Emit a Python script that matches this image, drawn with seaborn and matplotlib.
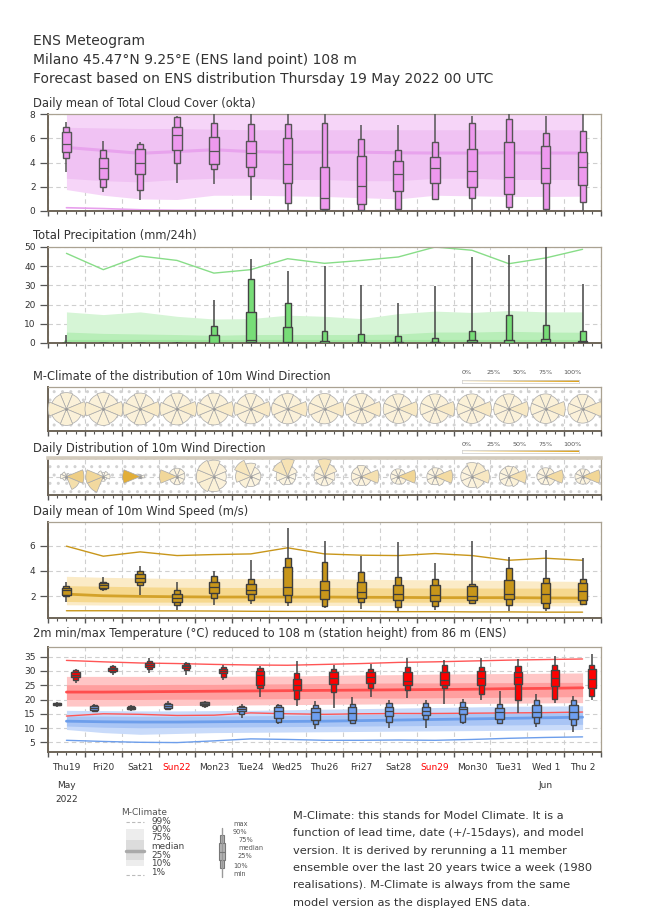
import numpy as np
import matplotlib
matplotlib.use("Agg")
import matplotlib.pyplot as plt
import matplotlib.transforms as mtransforms
from matplotlib.patches import Wedge, Rectangle
from matplotlib.colors import LinearSegmentedColormap
import seaborn as sns

sns.set_theme(style="white")
plt.rcParams['font.family'] = ['DejaVu Sans']

# ---------------- DATA ----------------
day_labels = ['Thu19', 'Fri20', 'Sat21', 'Sun22', 'Mon23', 'Tue24', 'Wed25', 'Thu26',
              'Fri27', 'Sat28', 'Sun29', 'Mon30', 'Tue31', 'Wed 1', 'Thu 2']
month_labels = [(0.5, 'May'), (13.5, 'Jun')]
year_label = '2022'

# ensemble boxes: (min, p10, p25, median, p75, p90, max)
cloud_boxes = [
    (3.19, 4.35, 4.85, 5.51, 6.51, 6.93, 7.34),
    (1.58, 2.02, 2.60, 3.52, 4.35, 5.01, 5.79),
    (0.89, 1.75, 3.02, 3.93, 5.10, 5.54, 5.73),
    (2.30, 3.99, 5.01, 6.26, 6.93, 7.73, 7.87),
    (2.19, 3.43, 3.85, 4.96, 6.12, 7.26, 8.00),
    (0.94, 2.85, 3.66, 4.76, 5.76, 7.17, 8.00),
    (0.00, 0.64, 2.35, 3.85, 6.04, 7.17, 8.00),
    (0.00, 0.05, 0.14, 1.10, 3.63, 7.26, 8.00),
    (0.00, 0.11, 0.61, 2.05, 4.54, 5.93, 7.06),
    (0.00, 0.19, 1.69, 3.05, 4.10, 4.99, 7.06),
    (0.90, 0.97, 2.27, 3.55, 4.49, 5.65, 8.00),
    (0.00, 1.08, 1.97, 3.27, 5.15, 7.29, 7.87),
    (0.00, 0.33, 1.44, 2.80, 5.68, 7.56, 8.00),
    (0.00, 0.19, 2.27, 3.55, 5.35, 6.45, 7.87),
    (0.00, 0.78, 2.11, 3.63, 4.88, 6.57, 8.00),
]
precip_boxes = [
    (0, 0, 0, 0, 0, 0, 4.4),
    (0, 0, 0, 0, 0, 0, 0.1),
    (0, 0, 0, 0, 0, 0, 0.1),
    (0, 0, 0, 0, 0, 0, 0.3),
    (0, 0, 0, 0.2, 4.4, 8.9, 22.6),
    (0, 0, 0.5, 1.6, 16.2, 33.4, 43.5),
    (0, 0, 0, 0.3, 8.2, 20.6, 37.5),
    (0, 0, 0, 0.1, 0.9, 6.1, 40.0),
    (0, 0, 0, 0, 0.5, 4.5, 30.0),
    (0, 0, 0, 0, 0.5, 3.8, 20.9),
    (0, 0, 0, 0, 0.5, 2.6, 29.6),
    (0, 0, 0, 0.3, 1.4, 6.4, 45.0),
    (0, 0, 0, 0.2, 1.4, 14.6, 46.0),
    (0, 0, 0, 0.5, 2.1, 9.6, 52.0),
    (0, 0, 0, 0.3, 1.0, 6.4, 30.8),
]
wind_boxes = [
    (1.53, 2.00, 2.13, 2.47, 2.66, 2.84, 3.10),
    (2.39, 2.58, 2.66, 2.89, 3.05, 3.13, 3.50),
    (2.13, 2.87, 3.13, 3.45, 3.76, 4.03, 4.42),
    (0.95, 1.29, 1.53, 1.84, 2.21, 2.53, 3.10),
    (1.34, 1.84, 2.26, 2.71, 3.13, 3.63, 4.03),
    (1.42, 1.74, 2.18, 2.53, 2.95, 3.39, 4.89),
    (1.21, 1.53, 2.10, 2.74, 4.29, 5.03, 7.39),
    (1.08, 1.26, 1.79, 2.47, 3.24, 4.71, 6.39),
    (1.03, 1.53, 1.84, 2.34, 3.10, 3.95, 5.16),
    (0.87, 1.16, 1.74, 2.18, 2.89, 3.53, 6.26),
    (0.95, 1.21, 1.61, 2.08, 2.89, 3.39, 4.63),
    (1.47, 1.47, 1.68, 2.00, 2.79, 2.97, 6.32),
    (0.87, 1.34, 1.79, 2.18, 3.26, 4.24, 5.11),
    (0.82, 1.08, 1.47, 2.18, 3.05, 3.45, 5.61),
    (1.42, 1.42, 1.68, 2.39, 3.05, 3.37, 5.03),
]
tmax_boxes = [
    (25.8, 27.0, 27.8, 28.7, 29.5, 30.2, 30.7),
    (28.7, 29.5, 29.9, 30.6, 31.0, 31.6, 32.2),
    (29.3, 30.6, 31.3, 32.0, 32.8, 33.4, 34.5),
    (28.7, 30.2, 31.0, 31.6, 32.2, 32.7, 33.0),
    (26.9, 28.0, 29.3, 30.1, 30.8, 31.4, 32.0),
    (20.8, 24.1, 25.0, 28.7, 29.9, 31.0, 31.6),
    (17.7, 20.2, 23.3, 25.2, 27.3, 29.3, 33.4),
    (17.1, 22.7, 25.5, 27.6, 29.7, 30.7, 32.2),
    (20.9, 24.1, 25.8, 27.9, 29.7, 30.7, 32.6),
    (20.6, 23.5, 25.2, 26.4, 29.7, 31.4, 34.5),
    (18.3, 24.1, 25.0, 27.0, 29.5, 32.2, 34.0),
    (20.0, 22.0, 25.2, 27.6, 30.1, 31.4, 34.5),
    (15.3, 19.7, 25.5, 27.8, 29.7, 31.9, 34.2),
    (18.6, 20.3, 24.7, 27.6, 30.3, 32.0, 35.1),
    (20.0, 21.4, 24.1, 27.3, 30.7, 32.0, 35.9),
]
tmin_boxes = [
    (17.3, 18.0, 18.1, 18.5, 18.7, 18.8, 19.1),
    (15.6, 15.9, 16.4, 17.1, 17.6, 17.9, 18.3),
    (15.9, 16.5, 16.7, 17.1, 17.4, 17.7, 17.9),
    (16.2, 16.5, 16.9, 17.7, 18.3, 18.6, 19.4),
    (17.1, 17.7, 17.9, 18.5, 19.0, 19.2, 19.4),
    (13.6, 14.8, 15.9, 16.7, 17.3, 17.7, 18.3),
    (11.5, 12.2, 13.4, 15.9, 17.3, 17.9, 18.5),
    (9.5, 11.5, 12.7, 15.6, 16.9, 17.9, 19.4),
    (11.3, 11.6, 12.8, 15.3, 17.3, 18.5, 20.9),
    (10.1, 12.2, 14.2, 15.9, 17.3, 18.8, 20.0),
    (10.1, 13.0, 14.4, 15.9, 17.4, 18.6, 19.7),
    (11.5, 12.2, 14.8, 16.5, 17.4, 19.2, 20.2),
    (11.3, 11.9, 13.3, 15.7, 16.9, 18.3, 22.9),
    (10.3, 11.9, 14.0, 15.7, 17.9, 19.8, 22.1),
    (8.7, 10.9, 13.0, 15.7, 17.9, 19.7, 21.2),
]
tmin_dark_days = [0, 2, 4]

# M-climate percentiles (one value per day, at noon)
cloud_c1 = [0.27, 0.2, 0.1, 0.06, 0.05, 0.04, 0.03, 0.02, 0.02, 0.02, 0.02, 0.02, 0.02, 0.02, 0.02]
cloud_c10 = [1.77, 1.3, 1.0, 0.95, 1.3, 1.3, 1.25, 1.2, 1.1, 1.0, 1.3, 1.25, 1.2, 1.2, 1.22]
cloud_c25 = [2.7, 2.5, 2.4, 2.6, 2.7, 2.7, 2.6, 2.6, 2.5, 2.5, 2.7, 2.7, 2.6, 2.6, 2.6]
cloud_c50 = [5.24, 5.0, 4.76, 4.9, 5.05, 4.9, 4.85, 4.85, 4.85, 4.8, 4.78, 4.78, 4.8, 4.78, 4.78]
cloud_c75 = [6.9, 6.85, 6.8, 6.8, 6.75, 6.7, 6.7, 6.7, 6.7, 6.7, 6.7, 6.7, 6.7, 6.7, 6.7]
cloud_c90 = [8.0] * 15

precip_c50 = [0.6] * 15
precip_c75 = [5.7, 5.0, 4.7, 4.4, 4.0, 4.4, 4.4, 4.4, 4.4, 4.7, 5.7, 5.7, 6.1, 5.7, 5.6]
precip_c90 = [16.2, 14.8, 16.2, 13.9, 12.5, 12.7, 14.5, 13.9, 12.7, 15.3, 16.6, 15.9, 16.9, 16.2, 16.2]
precip_c99 = [46.7, 38.2, 45.3, 43.0, 36.4, 38.2, 43.9, 41.5, 43.0, 44.8, 50.0, 48.3, 41.3, 44.3, 48.8]

wind_c1 = [0.87, 0.87, 0.86, 0.86, 0.85, 0.83, 0.82, 0.82, 0.82, 0.80, 0.80, 0.78, 0.78, 0.76, 0.76]
wind_c10 = [1.34, 1.32, 1.31, 1.30, 1.30, 1.30, 1.29, 1.29, 1.28, 1.28, 1.27, 1.27, 1.26, 1.26, 1.25]
wind_c25 = [1.60, 1.56, 1.55, 1.55, 1.55, 1.55, 1.55, 1.55, 1.55, 1.55, 1.54, 1.54, 1.54, 1.53, 1.53]
wind_c50 = [2.18, 2.05, 2.0, 1.97, 1.95, 1.95, 1.95, 1.95, 1.93, 1.92, 1.9, 1.9, 1.9, 1.88, 1.87]
wind_c75 = [2.84, 2.8, 2.75, 2.72, 2.7, 2.7, 2.7, 2.7, 2.68, 2.66, 2.66, 2.66, 2.65, 2.65, 2.65]
wind_c90 = [3.58, 3.5, 3.45, 3.4, 3.4, 3.4, 3.42, 3.4, 3.35, 3.32, 3.3, 3.28, 3.25, 3.2, 3.18]
wind_c99 = [5.95, 5.16, 5.5, 5.21, 5.29, 5.34, 5.82, 5.34, 5.24, 5.21, 5.37, 5.21, 4.84, 5.0, 4.84]

tmax_c1 = [14.2, 15.0, 14.8, 14.4, 14.5, 15.3, 15.0, 14.8, 15.0, 15.1, 15.1, 15.2, 15.3, 15.4, 15.6]
tmax_c10 = [17.7, 17.7, 17.8, 17.9, 18.0, 18.1, 18.2, 18.3, 18.4, 18.5, 18.6, 18.6, 18.7, 18.8, 18.9]
tmax_c25 = [20.0, 20.0, 20.0, 20.1, 20.1, 20.2, 20.3, 20.4, 20.5, 20.5, 20.6, 20.7, 20.8, 20.9, 21.0]
tmax_c50 = [22.6, 22.6, 22.7, 22.8, 22.9, 23.0, 23.1, 23.2, 23.3, 23.4, 23.5, 23.6, 23.8, 23.9, 24.1]
tmax_c75 = [25.2, 25.2, 25.2, 25.3, 25.3, 25.4, 25.5, 25.6, 25.7, 25.8, 25.8, 25.9, 25.9, 26.0, 26.0]
tmax_c90 = [28.1, 28.1, 28.1, 28.1, 28.1, 28.2, 28.2, 28.4, 28.6, 28.7, 28.9, 29.0, 29.1, 29.2, 29.3]
tmax_c99 = [33.7, 33.2, 32.8, 32.6, 32.3, 32.1, 32.0, 32.3, 32.6, 33.0, 33.2, 33.5, 33.8, 34.0, 34.2]

tmin_c1 = [5.7, 5.3, 5.0, 4.9, 5.5, 6.2, 6.0, 5.7, 5.7, 5.8, 5.7, 6.0, 6.4, 6.7, 6.9]
tmin_c10 = [9.5, 8.4, 7.8, 8.1, 8.4, 8.5, 8.6, 8.7, 8.8, 8.9, 9.0, 9.1, 9.2, 9.3, 9.5]
tmin_c25 = [10.7, 10.3, 10.1, 10.2, 10.3, 10.4, 10.5, 10.6, 10.7, 10.8, 10.9, 11.0, 11.1, 11.2, 11.3]
tmin_c50 = [12.4, 12.2, 12.1, 12.1, 12.2, 12.3, 12.3, 12.4, 12.6, 12.8, 13.0, 13.2, 13.4, 13.6, 13.8]
tmin_c75 = [14.2, 14.2, 14.1, 14.1, 14.2, 14.3, 14.4, 14.5, 14.7, 14.9, 15.0, 15.1, 15.2, 15.3, 15.4]
tmin_c90 = [16.2, 16.1, 16.0, 16.0, 16.1, 16.2, 16.4, 16.6, 16.8, 17.0, 17.2, 17.4, 17.6, 17.7, 17.8]

# wind direction frequencies (%) for sectors N, NE, E, SE, S, SW, W, NW
clim_dir = [
    [12, 11, 17, 11, 12, 11, 15, 11], [12, 11, 17, 11, 12, 11, 15, 11],
    [12, 11, 18, 11, 12, 11, 14, 11], [12, 11, 18, 11, 12, 11, 14, 11],
    [12, 11, 18, 11, 12, 11, 14, 11], [12, 11, 19, 11, 11, 11, 14, 11],
    [12, 11, 19, 11, 11, 11, 13, 12], [12, 11, 19, 11, 11, 11, 13, 12],
    [12, 11, 19, 11, 11, 11, 13, 12], [12, 11, 20, 11, 11, 11, 12, 12],
    [12, 11, 20, 11, 11, 11, 12, 12], [12, 11, 20, 11, 11, 11, 12, 12],
    [12, 11, 20, 11, 11, 11, 12, 12], [12, 11, 20, 11, 11, 11, 12, 12],
    [12, 11, 21, 11, 11, 11, 12, 11],
]
daily_dir = [
    [1, 2, 50, 32, 2, 3, 6, 4],
    [2, 4, 6, 2, 3, 38, 40, 5],
    [1, 1, 5, 2, 1, 2, 86, 2],
    [9, 9, 8, 8, 9, 8, 40, 9],
    [14, 10, 8, 10, 12, 14, 16, 16],
    [14, 8, 8, 8, 8, 12, 18, 24],
    [28, 10, 6, 6, 6, 8, 12, 24],
    [28, 16, 10, 8, 8, 8, 10, 12],
    [12, 10, 30, 10, 8, 10, 10, 10],
    [8, 8, 42, 10, 8, 8, 8, 8],
    [9, 10, 36, 12, 8, 9, 8, 8],
    [14, 16, 22, 12, 9, 9, 9, 9],
    [10, 12, 30, 12, 9, 9, 9, 9],
    [9, 10, 36, 11, 8, 8, 9, 9],
    [8, 9, 42, 10, 8, 8, 8, 7],
]
cbar_labels = ['0%', '25%', '50%', '75%', '100%']

titles = ['ENS Meteogram',
          'Milano 45.47°N 9.25°E (ENS land point) 108 m',
          'Forecast based on ENS distribution Thursday 19 May 2022 00 UTC']
panel_titles = ['Daily mean of Total Cloud Cover (okta)',
                'Total Precipitation (mm/24h)',
                'M-Climate of the distribution of 10m Wind Direction',
                'Daily Distribution of 10m Wind Direction',
                'Daily mean of 10m Wind Speed (m/s)',
                '2m min/max Temperature (°C) reduced to 108 m (station height) from 86 m (ENS)']
note_lines = ['M-Climate: this stands for Model Climate. It is a',
              'function of lead time, date (+/-15days), and model',
              'version. It is derived by rerunning a 11 member',
              'ensemble over the last 20 years twice a week (1980',
              'realisations). M-Climate is always from the same',
              'model version as the displayed ENS data.']
mclim_legend = ['99%', '90%', '75%', 'median', '25%', '10%', '1%']
box_legend = ['max', '90%', '75%', 'median', '25%', '10%', 'min']

# ---------------- FIGURE ----------------
W, H = 650, 916
fig = plt.figure(figsize=(W / 100, H / 100), dpi=100)
TXT = '#333333'


def px_axes(x0, y0, x1, y1, **kw):
    return fig.add_axes([x0 / W, 1 - y1 / H, (x1 - x0) / W, (y1 - y0) / H], **kw)


ND = len(day_labels)
xnoon = np.arange(ND) + 0.5
X0, X1 = 48, 601


def setup(ax, ylim, yticks):
    ax.set_xlim(0, ND)
    ax.set_ylim(*ylim)
    ax.set_xticks(np.arange(ND + 1))
    minor = [k * 0.25 for k in range(ND * 4) if k % 4 != 0]
    ax.set_xticks(minor, minor=True)
    ax.tick_params(axis='x', which='major', bottom=True, length=3.8, width=1.0,
                   color='#555555', labelbottom=False)
    ax.tick_params(axis='x', which='minor', bottom=True, length=2.2, width=0.8,
                   color='#555555', labelbottom=False)
    ax.set_yticks(yticks)
    ax.tick_params(axis='y', left=True, length=6, width=0.9, color='#555555',
                   labelsize=6.5, labelcolor=TXT, pad=3)
    ax.grid(True, which='major', axis='both', ls=(0, (4, 3)), color='#cfcfcf', lw=0.8)
    ax.set_axisbelow(True)
    for s in ['left', 'bottom']:
        ax.spines[s].set_color('#6e6558')
        ax.spines[s].set_linewidth(1.4)
    for s in ['top', 'right']:
        ax.spines[s].set_color('#aaa292')
        ax.spines[s].set_linewidth(0.9)
    ax.set_xlabel('')
    ax.set_ylabel('')


def boxes(ax, pos, stats, fc, w_in=0.26, w_out=0.16, ec='#4a4a4a', wc='#444444'):
    s = np.array(stats, dtype=float)
    mn, p10, p25, med, p75, p90, mx = s.T
    ax.vlines(pos, mn, mx, color=wc, lw=1.1, zorder=4)
    ax.bar(pos, p90 - p10, bottom=p10, width=w_out, color=fc, edgecolor=ec,
           linewidth=1.0, zorder=5)
    ax.bar(pos, p75 - p25, bottom=p25, width=w_in, color=fc, edgecolor=ec,
           linewidth=1.0, zorder=6)
    ax.hlines(med, pos - w_in / 2, pos + w_in / 2, color=ec, lw=0.9, zorder=7)


def band(ax, lo, hi, color, z):
    ax.fill_between(xnoon, lo, hi, color=color, lw=0, zorder=z)


def line(ax, y, color, lw, z=2.5):
    sns.lineplot(x=xnoon, y=np.array(y, dtype=float), ax=ax, color=color, lw=lw, zorder=z)


# Titles
for i, t in enumerate(titles):
    fig.text(33 / W, 1 - (41 + 19 * i) / H, t, fontsize=10, color=TXT, va='center', ha='left')
title_y = [103.5, 235.5, 377, 448.5, 511, 633]
for t, y in zip(panel_titles, title_y):
    fig.text(33 / W, 1 - y / H, t, fontsize=8.3, color=TXT, va='center', ha='left')

# ---- cloud cover
ax1 = px_axes(X0, 114, X1, 211)
setup(ax1, (0, 8), [0, 2, 4, 6, 8])
band(ax1, cloud_c10, cloud_c90, '#F6D5F8', 1)
band(ax1, cloud_c25, cloud_c75, '#F0C2F3', 1.5)
line(ax1, cloud_c50, '#E8A3ED', 2.2)
line(ax1, cloud_c1, '#E8A0ED', 1.2)
boxes(ax1, xnoon, cloud_boxes, '#EE99EE', ec='#555555', wc='#555555')

# ---- precipitation
ax2 = px_axes(X0, 247, X1, 343)
setup(ax2, (0, 50), [0, 10, 20, 30, 40, 50])
band(ax2, np.zeros(ND), precip_c90, '#D6F5D6', 1)
band(ax2, np.zeros(ND), precip_c75, '#B8EEB8', 1.5)
line(ax2, precip_c50, '#A0E6A0', 3)
line(ax2, precip_c99, '#88DD88', 1.0)
boxes(ax2, xnoon, precip_boxes, '#77DD77', ec='#444444', wc='#444444')

# ---- wind direction panels
cmap = LinearSegmentedColormap.from_list('gold', ['#FFFBF0', '#DDA21A'])
px_per_day = (X1 - X0) / ND


def rose_axes(y0, y1, freqs, rmax_px, top_lw, top_col):
    ax = px_axes(X0, y0, X1, y1)
    half = (y1 - y0) / 2 / px_per_day
    setup(ax, (-half, half), [0])
    ax.tick_params(axis='y', left=False, labelleft=False)
    ax.spines['top'].set_linewidth(top_lw)
    ax.spines['top'].set_color(top_col)
    st = Rectangle((0, -half), ND, 2 * half, facecolor='none', edgecolor='#d2d2d2',
                   lw=0, hatch='..', zorder=0.5)
    ax.add_patch(st)
    rmax = rmax_px / px_per_day
    for i, f in enumerate(freqs):
        f = np.array(f, dtype=float)
        fm = f.max()
        for j, v in enumerate(f):
            ang = 90 - 45 * j
            r = rmax * np.sqrt(v / fm)
            ax.add_patch(Wedge((xnoon[i], 0), r, ang - 22.5, ang + 22.5,
                               facecolor=cmap(v / 100), edgecolor='#a9a9a9', lw=0.5, zorder=3))
    ax.scatter(xnoon, np.zeros(ND), s=4, color='#999999', zorder=4, lw=0)
    return ax


ax3 = rose_axes(387, 431, clim_dir, 19.5, 0.9, '#aaa292')
ax4 = rose_axes(458, 495, daily_dir, 17.5, 2.6, '#d3cbbd')


def cbar(y_bar, y_lab):
    cax = px_axes(462, y_bar, 579, y_bar + 3)
    cax.imshow(np.linspace(0, 1, 256)[None, :], aspect='auto', cmap=cmap)
    cax.set_xticks([])
    cax.set_yticks([])
    for s in cax.spines.values():
        s.set_color('#cccccc')
        s.set_linewidth(0.5)
    for k, lab in enumerate(cbar_labels):
        fig.text((467 + 26.3 * k) / W, 1 - y_lab / H, lab, fontsize=4.6,
                 color='#555555', ha='center', va='center')


cbar(379.5, 372)
cbar(449.5, 445)

# ---- wind speed
ax5 = px_axes(X0, 522, X1, 618)
setup(ax5, (0.3, 7.85), [2, 4, 6])
band(ax5, wind_c10, wind_c90, '#FBEBC7', 1)
band(ax5, wind_c25, wind_c75, '#F6D88E', 1.5)
line(ax5, wind_c50, '#D4A22A', 2.0)
line(ax5, wind_c99, '#C8961A', 1.0)
line(ax5, wind_c1, '#C8961A', 1.0)
boxes(ax5, xnoon, wind_boxes, '#C8961A', ec='#3c3c3c', wc='#444444')

# ---- temperature
ax6 = px_axes(X0, 647, X1, 752)
setup(ax6, (1.6, 38.4), [5, 10, 15, 20, 25, 30, 35])
band(ax6, tmin_c10, tmin_c90, '#C9DBFA', 1)
band(ax6, tmin_c25, tmin_c75, '#A9C5F5', 1.5)
line(ax6, tmin_c50, '#6D9EEB', 2.0)
line(ax6, tmin_c1, '#6D9EEB', 1.0)
band(ax6, tmax_c10, tmax_c90, '#FFC6C6', 1.6)
band(ax6, tmax_c25, tmax_c75, '#FF9F9F', 1.7)
line(ax6, tmax_c50, '#FF4D4D', 2.0)
line(ax6, tmax_c99, '#FF5555', 1.0)
line(ax6, tmax_c1, '#FF5555', 1.0)
tmin_cols = ['#555B66' if i in tmin_dark_days else '#6E9FF0' for i in range(ND)]
boxes(ax6, np.arange(ND) + 0.25, tmin_boxes, tmin_cols, w_in=0.23, w_out=0.14,
      ec='#444444', wc='#444444')
boxes(ax6, np.arange(ND) + 0.75, tmax_boxes, '#FF0000', w_in=0.23, w_out=0.14,
      ec='#444444', wc='#444444')

# x tick labels on the last panel
minor = [k * 0.25 for k in range(ND * 4) if k % 4 != 0]
mlabels = [day_labels[int(p)] if abs(p - int(p) - 0.5) < 1e-6 else '' for p in minor]
ax6.set_xticks(minor, mlabels, minor=True)
ax6.tick_params(axis='x', which='minor', labelbottom=True, labelsize=6.5,
                labelcolor=TXT, pad=6)
for t in ax6.get_xticklabels(minor=True):
    if t.get_text().startswith('Sun'):
        t.set_color('#ff0000')
trans = mtransforms.blended_transform_factory(ax6.transData, ax6.transAxes)
for xm, lab in month_labels:
    ax6.text(xm, -33 / 105, lab, transform=trans, fontsize=6.5, color=TXT,
             ha='center', va='center')
ax6.text(0.5, -48 / 105, year_label, transform=trans, fontsize=6.5, color=TXT,
         ha='center', va='center')

# ---- bottom legend (pixel coordinates)
lax = fig.add_axes([0, 0, 1, 1], zorder=-5)
lax.set_xlim(0, W)
lax.set_ylim(H, 0)
lax.axis('off')
lax.text(144, 812.5, 'M-Climate', fontsize=6.5, color='#555555', ha='center', va='center')
lax.plot([126, 144], [822, 822], color='#bbbbbb', lw=0.8, ls=(0, (3, 2)))
lax.plot([126, 144], [875, 875], color='#bbbbbb', lw=0.8, ls=(0, (3, 2)))
lax.add_patch(Rectangle((126, 829), 18, 37, facecolor='#ededed', lw=0))
lax.add_patch(Rectangle((126, 840), 18, 20, facecolor='#dcdcdc', lw=0))
lax.plot([126, 144], [851, 851], color='#aaaaaa', lw=2.5)
for lab, y in zip(mclim_legend, [821.5, 829.5, 837.5, 846.5, 856, 864, 872.5]):
    lax.text(151, y, lab, fontsize=6.4, color='#444444', ha='left', va='center')

lax.plot([222, 222], [828, 877], color='#999999', lw=1)
lax.add_patch(Rectangle((220, 835), 4, 33, facecolor='#b4b4b4', edgecolor='#777777', lw=0.8))
lax.add_patch(Rectangle((218.6, 843), 6.8, 17, facecolor='#b4b4b4', edgecolor='#777777', lw=0.8))
lax.plot([218.6, 225.4], [851.7, 851.7], color='#777777', lw=0.8)
for lab, (x, y) in zip(box_legend, [(233, 824), (233, 832), (238, 840), (238, 848),
                                    (238, 856), (233, 866), (233, 874)]):
    lax.text(x, y, lab, fontsize=4.8, color='#555555', ha='left', va='center')

for i, t in enumerate(note_lines):
    lax.text(293, 816 + 17.3 * i, t, fontsize=8.2, color=TXT, ha='left', va='center')

fig.savefig('out.png', dpi=100)
